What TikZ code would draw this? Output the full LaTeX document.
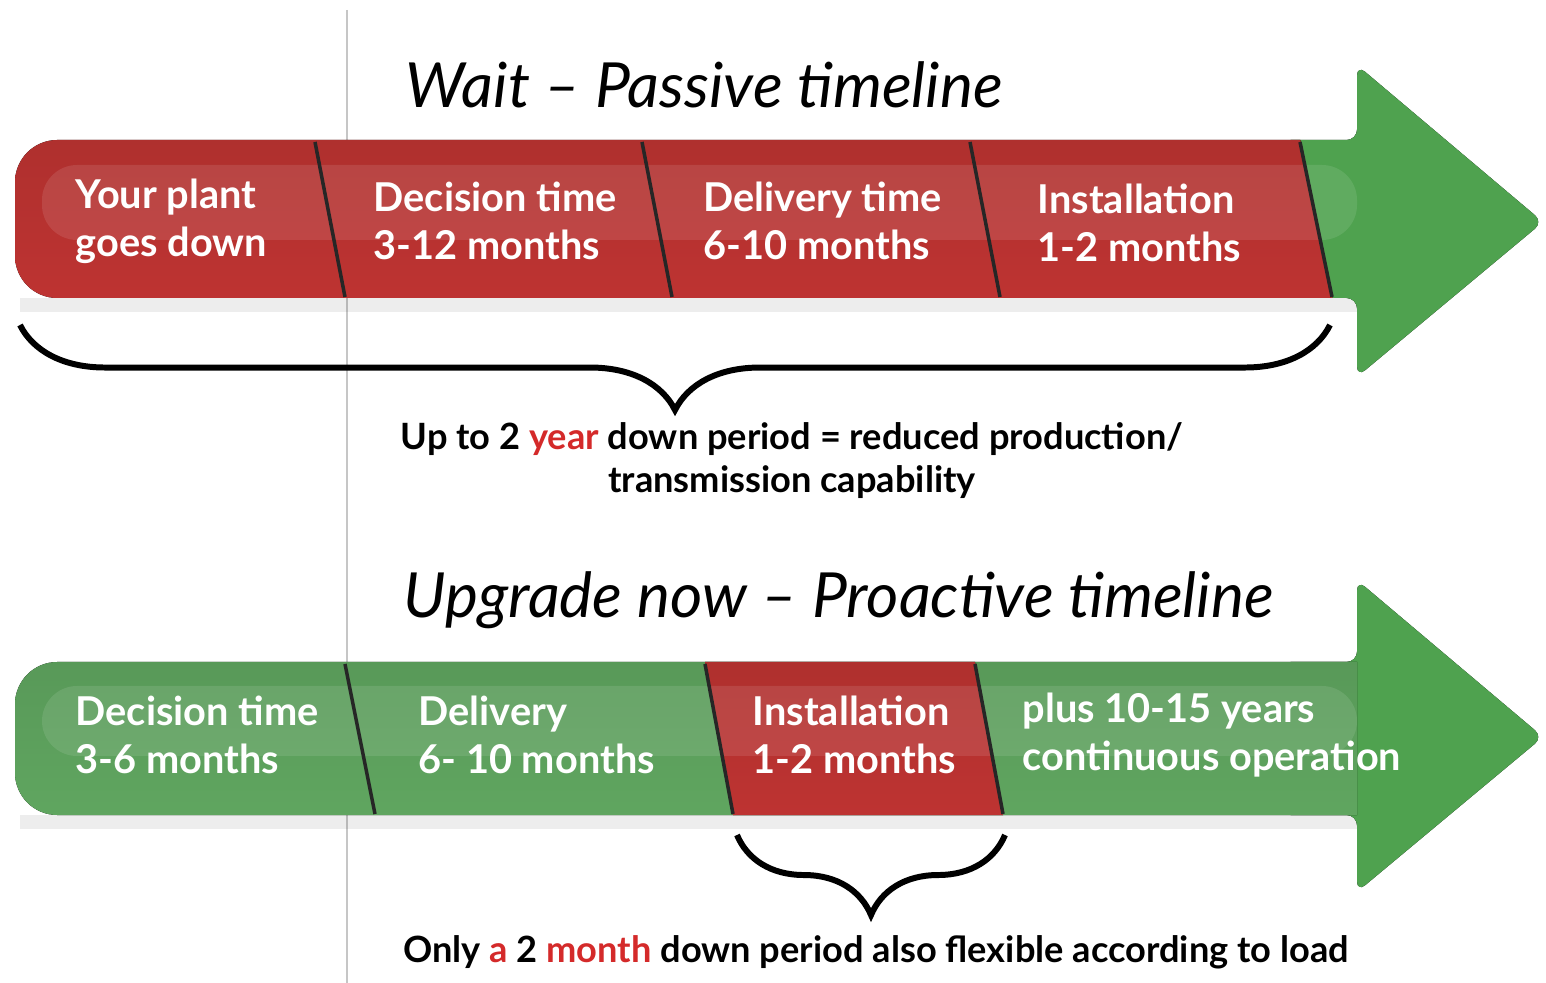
\documentclass[tikz,border=0pt]{standalone}
\usepackage{fontspec}
\setmainfont{Lato}
\usetikzlibrary{positioning,decorations.pathreplacing,calc}
\definecolor{barred}{RGB}{206,56,54}
\definecolor{barredhi}{RGB}{226,100,96}
\definecolor{bargreen}{RGB}{104,180,104}
\definecolor{bargreenhi}{RGB}{150,206,146}
\definecolor{headgreen}{RGB}{86,176,86}
\definecolor{capred}{RGB}{212,42,42}

\begin{document}
\begin{tikzpicture}[
  x=0.01cm, y=-0.01cm,
  redfill/.style   = {top color=barred!85!black, middle color=barredhi, bottom color=barred!92!black},
  greenfill/.style = {top color=bargreen!85!black, middle color=bargreenhi, bottom color=bargreen!92!black},
  headfill/.style  = {top color=headgreen!92!black, middle color=headgreen!85!white, bottom color=headgreen!92!black,
                      rounded corners=3pt},
  gloss/.style     = {fill=white, opacity=0.1, rounded corners=10pt},
  divider/.style   = {line width=1pt, black!85},
  seg/.style       = {font=\bfseries\fontsize{11.3}{13.6}\selectfont, text=white, align=left,
                      anchor=west, inner sep=0pt},
  ttl/.style       = {font=\itshape\fontsize{17.7}{20}\selectfont, anchor=base west, inner sep=0pt},
  captxt/.style    = {font=\bfseries\fontsize{10.3}{12.2}\selectfont, align=center, inner sep=0pt},
  brace/.style     = {decorate, decoration={brace, mirror, amplitude=#1}, line width=1.7pt},
]
\useasboundingbox (0,0) rectangle (1546,983);

% guide line
\draw[gray!45, line width=0.6pt] (347,10) -- (347,983);

% ---- passive timeline
\node[ttl] (waitttl) at (405,108) {Wait -- Passive timeline};

\fill[black, opacity=0.07] (20,298) rectangle (1357,312);
\fill[headfill] (1280,140) -- (1357,140) -- (1357,65) -- (1543,222) -- (1357,377) -- (1357,298) -- (1280,298) -- cycle;
\begin{scope}
  \clip (0,0) -- (1272,0) -- (1353,400) -- (0,400) -- cycle;
  \fill[redfill, rounded corners=12pt] (15,140) rectangle (1400,298);
\end{scope}
\fill[gloss] (42,165) rectangle (1357,240);
\foreach \xa/\xb in {315/345, 642/672, 970/1000, 1300/1332}
  \draw[divider] (\xa,142) -- (\xb,297);

\node[seg] (plant)    at (75,221)   {Your plant\\goes down};
\node[seg] (pdecide)  at (373,221)  {Decision time\\3-12 months};
\node[seg] (pdeliver) at (703,221)  {Delivery time\\6-10 months};
\node[seg] (pinstall) at (1037,223) {Installation\\1-2 months};

\coordinate (pbraceL) at (20,325);
\coordinate (pbraceR) at (1330,325);
\draw[brace=0.85cm] (pbraceL) -- (pbraceR);
\node[captxt] (pcap) at (792,461)
  {Up to 2 \textcolor{capred}{year} down period = reduced production/\\transmission capability};

% ---- proactive timeline
\node[ttl] (upttl) at (403,618) {Upgrade now -- Proactive timeline};

\fill[black, opacity=0.07] (20,815) rectangle (1357,829);
\fill[headfill] (1280,662) -- (1357,662) -- (1357,580) -- (1543,737) -- (1357,892) -- (1357,815) -- (1280,815) -- cycle;
\begin{scope}
  \clip (0,0) -- (1357,0) -- (1357,983) -- (0,983) -- cycle;
  \fill[greenfill, rounded corners=12pt] (15,662) rectangle (1400,815);
\end{scope}
\fill[redfill] (705,662) -- (975,662) -- (1003,815) -- (733,815) -- cycle;
\fill[gloss] (42,686) rectangle (1357,756);
\foreach \xa/\xb in {345/375, 705/733, 975/1003}
  \draw[divider] (\xa,664) -- (\xb,814);

\node[seg] (adecide)  at (75,735)   {Decision time\\3-6 months};
\node[seg] (adeliver) at (418,735)  {Delivery\\6- 10 months};
\node[seg] (ainstall) at (752,735)  {Installation\\1-2 months};
\node[seg] (aoperate) at (1022,735) {plus 10-15 years\\continuous operation};

\coordinate (abraceL) at (737,835);
\coordinate (abraceR) at (1005,835);
\draw[brace=0.8cm] (abraceL) -- (abraceR);
\node[captxt] (acap) at (876,952)
  {Only \textcolor{capred}{a} 2 \textcolor{capred}{month} down period also flexible according to load};
\end{tikzpicture}
\end{document}
